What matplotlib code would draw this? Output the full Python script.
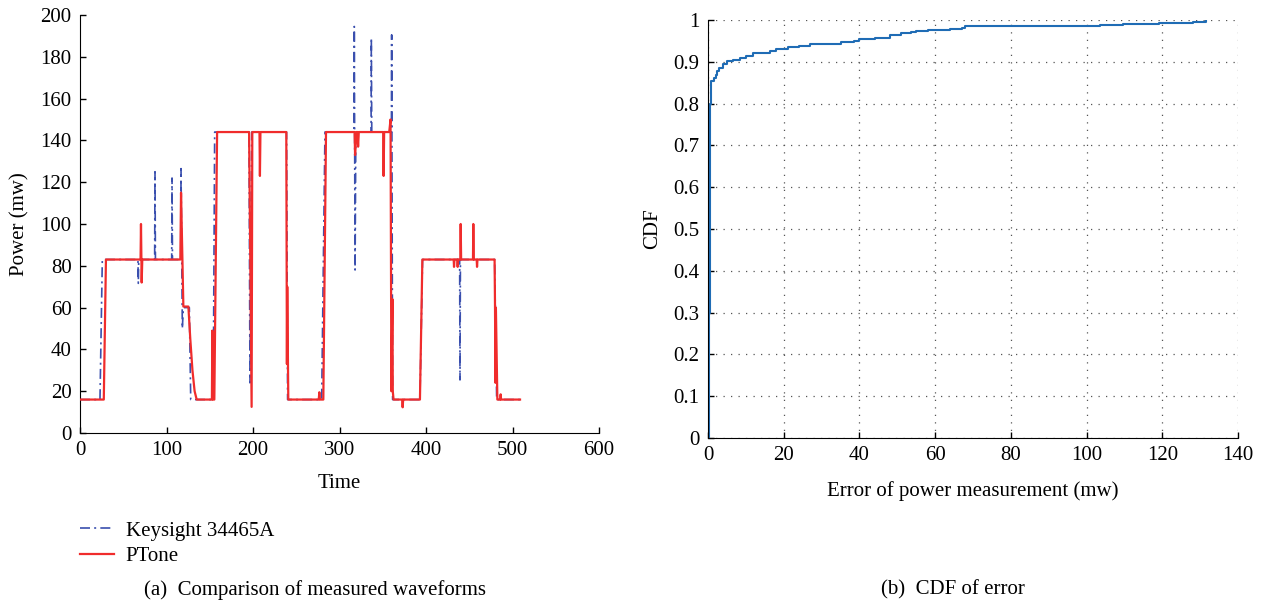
import matplotlib
matplotlib.use("Agg")
import matplotlib.pyplot as plt
import numpy as np

plt.rcParams['font.family'] = ['Liberation Serif', 'DejaVu Serif']
plt.rcParams['font.size'] = 15

# ---- (a) waveforms: breakpoints ----
ptone_t = [0, 27.5, 30, 70, 70.5, 71.3, 72, 116, 116.8, 119.5, 125.3, 127.5, 130, 132.5, 134.9,
           152.5, 153, 153.6, 155.3, 158.5, 195.5, 198.4, 199.2, 200.4, 207.5, 208, 208.6,
           238.5, 239.2, 239.6, 240.8, 276, 276.7, 277.4, 281.3, 284.4, 317.5, 318, 319.5, 320.8,
           321.5, 322.3, 350.5, 351, 351.6, 357.5, 359, 360, 361.2, 361.6, 362.5, 372.5, 373, 373.6,
           393, 395.8, 432, 432.4, 432.9, 436.2, 436.6, 437.1, 439.7, 440.1, 440.6, 454.3,
           454.7, 455.2, 458.6, 459, 459.5, 479.3, 479.8, 480.3, 480.8, 482.5, 485.8, 486.3,
           486.8, 508.7]
ptone_p = [16, 16, 83, 83, 100, 72, 83, 83, 115, 60.5, 60.5, 45, 30, 20, 16,
           16, 49, 16, 16, 144, 144, 12.5, 144, 144, 144, 123, 144,
           144, 33, 70, 16, 16, 19.5, 16, 16, 144, 144, 133, 144, 144,
           137, 144, 144, 123, 144, 144, 150, 20, 64, 20, 16, 16, 12.3, 16,
           16, 83, 83, 79.5, 83, 83, 79.5, 83, 83, 100, 83, 83,
           100, 83, 83, 79.5, 83, 83, 60, 24, 60, 16, 16, 18.5,
           16, 16]

keysight_t = [0, 23.1, 25.8, 67, 67.4, 67.9, 86.3, 86.7, 87.2, 106, 106.4, 106.9, 116.5, 116.8,
              118.3, 119.5, 126.4, 128, 154, 155.7, 195.4, 196.5, 198.5, 238.8, 240, 279.4, 283.2,
              316.8, 317.1, 318, 318.9, 336.5, 336.8, 337.3, 360, 360.3, 361.4, 393, 396,
              438.9, 439.3, 439.8, 479.3, 481.7, 508.7]
keysight_p = [16, 16, 83, 83, 71.6, 83, 83, 125, 83, 83, 122, 83, 83, 126.5,
              50, 60, 60, 16, 16, 144, 144, 24, 144, 144, 16, 16, 144,
              144, 194.5, 78, 144, 144, 189, 144, 144, 190.5, 16, 16, 83,
              83, 25.4, 83, 83, 16, 16]

# ---- (b) CDF of error ----
err_mw = [0, 0.2, 0.4, 0.6, 0.9, 1.5, 2.0, 2.5, 3.0, 4.0, 5.0, 6.5, 8.5, 10, 12, 14, 16.5,
          18, 21, 24, 27, 32, 35, 38.5, 40, 44, 48, 51, 53.5, 55, 58, 60, 64, 67, 68, 75,
          103.5, 109.5, 119, 128, 131.6]
cdf = [0, 0.3, 0.6, 0.8, 0.855, 0.862, 0.868, 0.878, 0.885, 0.895, 0.902, 0.905, 0.91,
       0.914, 0.92, 0.922, 0.926, 0.93, 0.935, 0.938, 0.942, 0.943, 0.947, 0.949, 0.954,
       0.958, 0.964, 0.97, 0.972, 0.974, 0.976, 0.977, 0.979, 0.98, 0.985, 0.9866,
       0.988, 0.99, 0.992, 0.995, 0.999]

fig = plt.figure(figsize=(12.66, 6.07), dpi=100)

ax1 = fig.add_axes([80/1266, 1-433/607, 519/1266, 418/607])
ax1.plot(keysight_t, keysight_p, color='#3a4fae', lw=1.2, ls=(0, (6, 2.5, 1.2, 2.5)),
         label='Keysight 34465A', zorder=2)
ax1.plot(ptone_t, ptone_p, color='#f02c2c', lw=1.6, label='PTone', zorder=3)
ax1.set_xlim(0, 600)
ax1.set_ylim(0, 200)
ax1.set_xticks(np.arange(0, 601, 100))
ax1.set_yticks(np.arange(0, 201, 20))
ax1.set_xlabel('Time', labelpad=10)
ax1.set_ylabel('Power (mw)', labelpad=8)
for s in ['top', 'right']:
    ax1.spines[s].set_visible(False)
ax1.tick_params(direction='in', length=4, width=1, pad=6)
leg = ax1.legend(loc='upper left', bbox_to_anchor=(80/1266, 1-521/607),
                 bbox_transform=fig.transFigure, frameon=False, borderpad=0,
                 handlelength=1.65, handletextpad=0.55, labelspacing=0.28, borderaxespad=0)

ax2 = fig.add_axes([708/1266, 1-438/607, 530/1266, 418/607])
ax2.plot(err_mw, cdf, color='#1f6cb5', lw=1.5, drawstyle='steps-post')
ax2.set_xlim(0, 140)
ax2.set_ylim(0, 1)
ax2.set_xticks(np.arange(0, 141, 20))
ax2.set_yticks(np.round(np.arange(0, 1.01, 0.1), 1))
ax2.set_yticklabels(['0'] + ['%.1f' % v for v in np.arange(0.1, 0.95, 0.1)] + ['1'])
ax2.grid(True, ls=(0, (1, 5)), color='#555555', lw=0.9)
ax2.set_xlabel('Error of power measurement (mw)', labelpad=11)
ax2.set_ylabel('CDF', labelpad=8)
for s in ['top', 'right']:
    ax2.spines[s].set_visible(False)
ax2.tick_params(direction='in', length=4, width=1, pad=6)

fig.text(315/1266, 1-590/607, '(a)  Comparison of measured waveforms', ha='center', va='center', fontsize=15)
fig.text(953/1266, 1-590/607, '(b)  CDF of error', ha='center', va='center', fontsize=15)

fig.savefig('out.png', dpi=100)
